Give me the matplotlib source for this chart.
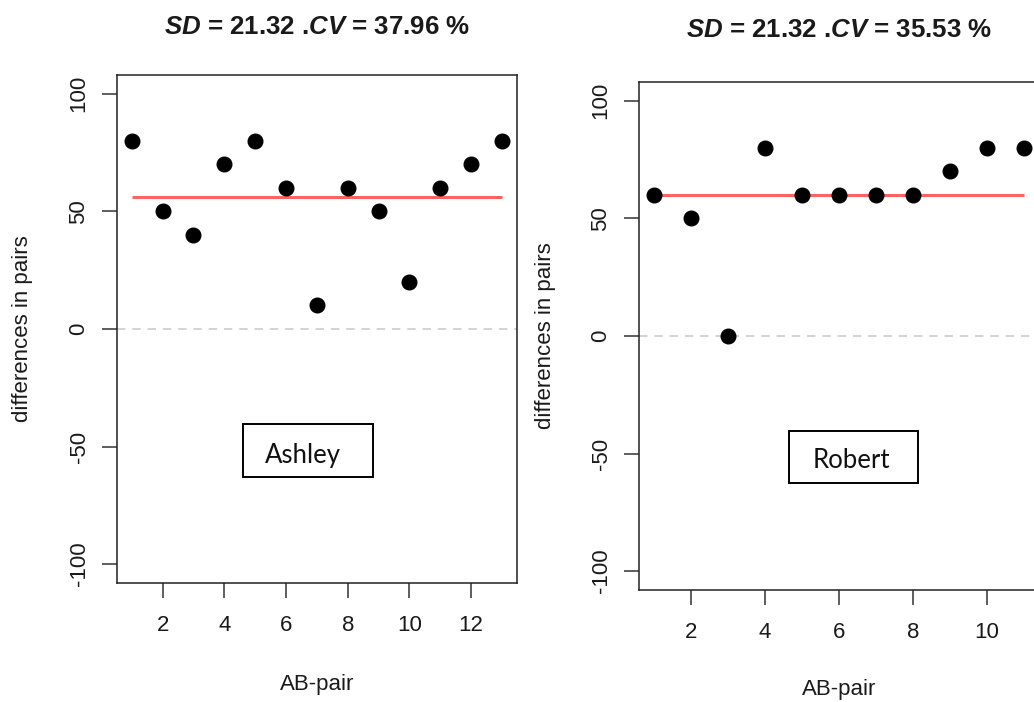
import matplotlib
matplotlib.use("Agg")
import matplotlib.pyplot as plt
from matplotlib.patches import Rectangle

plt.rcParams['font.family'] = ['Liberation Sans', 'DejaVu Sans']
plt.rcParams['mathtext.fontset'] = 'custom'
plt.rcParams['mathtext.rm'] = 'Liberation Sans:bold'
plt.rcParams['mathtext.bf'] = 'Liberation Sans:bold'
plt.rcParams['mathtext.bfit'] = 'Liberation Sans:bold:italic'
plt.rcParams['mathtext.it'] = 'Liberation Sans:bold:italic'

# ---- data ----
ashley_pairs = [1, 2, 3, 4, 5, 6, 7, 8, 9, 10, 11, 12, 13]
ashley_diffs = [80, 50, 40, 70, 80, 60, 10, 60, 50, 20, 60, 70, 80]
robert_pairs = [1, 2, 3, 4, 5, 6, 7, 8, 9, 10, 11]
robert_diffs = [60, 50, 0, 80, 60, 60, 60, 60, 70, 80, 80]
ashley_title = r"$\mathbfit{SD}$ = 21.32 .$\mathbfit{CV}$ = 37.96 %"
robert_title = r"$\mathbfit{SD}$ = 21.32 .$\mathbfit{CV}$ = 35.53 %"
yticks = [-100, -50, 0, 50, 100]
ashley_xticks = [2, 4, 6, 8, 10, 12]
robert_xticks = [2, 4, 6, 8, 10]
names = ["Ashley", "Robert"]

W, H = 1034, 702
fig = plt.figure(figsize=(W / 100, H / 100), dpi=100)

def px_ax(x0, x1, ytop, ybot):
    return fig.add_axes([x0 / W, 1 - ybot / H, (x1 - x0) / W, (ybot - ytop) / H])

axL = px_ax(117, 516.7, 75, 583)
axR = px_ax(639, 1039, 82, 590)

ink = '#1a1a1a'
panels = [
    (axL, ashley_pairs, ashley_diffs, ashley_xticks, ashley_title, names[0],
     (0.315, 0.209, 0.325, 0.104), (0.464, 0.237), 34, 690, 23),
    (axR, robert_pairs, robert_diffs, robert_xticks, robert_title, names[1],
     (0.375, 0.211, 0.3225, 0.102), (0.532, 0.2396), 37, 695, 545),
]

for ax, xs, ys, xt, title, name, box, tpos, title_base, xlab_base, ylab_x in panels:
    n = len(xs)
    pad = 0.04 * (n - 1)
    ax.set_xlim(xs[0] - pad, xs[-1] + pad)
    ax.set_ylim(-108, 108)
    ax.axhline(0, color='#c8c8c8', lw=1.1, dashes=[5.5, 4.5], zorder=1)
    mean = sum(ys) / n
    ax.plot([xs[0], xs[-1]], [mean, mean], color='#ff6262', lw=2.2, zorder=2,
            solid_capstyle='butt')
    ax.plot(xs, ys, 'o', color='black', markersize=10.5, zorder=3)
    ax.set_xticks(xt)
    ax.set_yticks(yticks)
    ax.set_xticklabels([str(v) for v in xt])
    ax.set_yticklabels([str(v) for v in yticks], rotation=90, va='center')
    ax.tick_params(axis='both', direction='out', length=10.8, width=1.1,
                   color='#333333', labelcolor=ink, labelsize=16)
    ax.tick_params(axis='x', pad=12)
    ax.tick_params(axis='y', pad=9)
    for s in ax.spines.values():
        s.set_linewidth(1.1)
        s.set_color('#222222')
    # label box
    ax.add_patch(Rectangle((box[0], box[1]), box[2], box[3], transform=ax.transAxes,
                           fill=False, edgecolor='black', lw=1.4, zorder=4))
    ax.text(tpos[0], tpos[1], name, transform=ax.transAxes, ha='center',
            va='baseline', fontsize=18.5, family=['Lato', 'DejaVu Sans'],
            color='#111111', zorder=5)
    # axes-level texts placed in figure pixels
    bb = ax.get_position()
    cx = (bb.x0 + bb.x1) / 2
    cy = (bb.y0 + bb.y1) / 2
    fig.text(cx, 1 - title_base / H, title, ha='center', va='baseline',
             fontsize=18.6, fontweight='bold', color=ink)
    fig.text(cx, 1 - xlab_base / H, "AB-pair", ha='center', va='baseline',
             fontsize=16, color=ink)
    fig.text(ylab_x / W, cy, "differences in pairs", rotation=90, ha='center',
             va='center', fontsize=16, color=ink)

fig.savefig("out.png", dpi=100)
